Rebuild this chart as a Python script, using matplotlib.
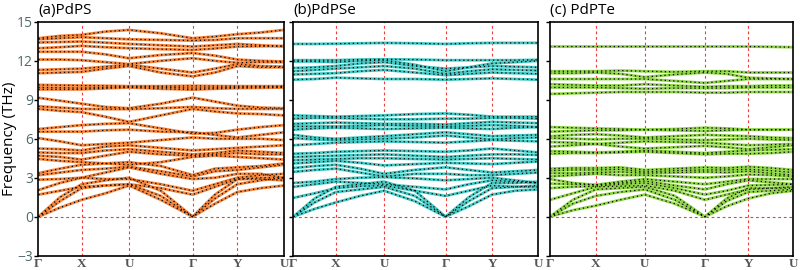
import numpy as np
import matplotlib
matplotlib.use("Agg")
import matplotlib.pyplot as plt

# high-symmetry path labels
path_labels = ["Γ", "X", "U", "Γ", "Y", "U"]

# high-symmetry point positions (fraction of path) per panel
hs_pdps = [0, 0.176, 0.369, 0.628, 0.81, 1.0]
hs_pdpse = [0, 0.174, 0.371, 0.622, 0.812, 1.0]
hs_pdpte = [0, 0.188, 0.39, 0.637, 0.815, 1.0]

# band frequencies (THz) read at Γ, mid, X, mid, U, mid, Γ, mid, Y, mid, U
pdps_bands = [
    [13.74, 13.92, 14.0, 14.25, 14.38, 14.12, 13.74, 13.87, 14.05, 14.18, 14.38],
    [13.66, 13.74, 13.82, 13.74, 13.66, 13.61, 13.56, 13.61, 13.74, 13.74, 13.74],
    [13.41, 13.45, 13.49, 13.4, 13.3, 13.2, 13.1, 13.2, 13.3, 13.2, 13.1],
    [12.97, 13.05, 13.15, 13.05, 12.97, 12.9, 12.84, 12.95, 13.1, 13.12, 13.15],
    [12.7, 12.7, 12.7, 12.5, 12.2, 12.45, 12.6, 12.4, 12.1, 12.0, 11.95],
    [12.1, 12.1, 12.05, 11.9, 11.75, 12.0, 12.2, 12.0, 11.85, 11.9, 11.9],
    [11.3, 11.35, 11.4, 11.55, 11.7, 11.4, 11.1, 11.4, 11.75, 11.6, 11.55],
    [11.05, 11.1, 11.15, 11.4, 11.6, 11.1, 10.8, 11.1, 11.6, 11.5, 11.5],
    [10.15, 10.12, 10.1, 10.08, 10.05, 10.05, 10.08, 10.06, 10.05, 10.05, 10.05],
    [9.95, 9.93, 9.9, 9.95, 10.0, 9.97, 9.9, 9.93, 9.97, 10.0, 10.0],
    [9.8, 9.8, 9.8, 9.88, 9.95, 9.85, 9.78, 9.85, 9.9, 9.92, 9.95],
    [9.15, 8.93, 8.7, 8.45, 8.35, 8.7, 9.17, 8.86, 8.55, 8.4, 8.35],
    [8.5, 8.4, 8.3, 8.28, 8.28, 8.35, 8.45, 8.35, 8.3, 8.3, 8.3],
    [8.3, 8.15, 8.05, 7.7, 7.3, 7.8, 8.3, 8.1, 7.95, 7.9, 7.8],
    [6.75, 6.9, 7.05, 7.15, 7.2, 6.8, 6.4, 6.45, 6.7, 6.9, 7.05],
    [6.55, 6.55, 6.55, 6.65, 6.7, 6.55, 6.5, 6.3, 6.1, 6.3, 6.5],
    [6.05, 5.8, 5.5, 5.6, 5.7, 5.9, 6.1, 6.0, 6.0, 6.0, 5.9],
    [5.25, 5.2, 5.1, 5.4, 5.5, 5.3, 5.1, 5.2, 5.3, 5.4, 5.5],
    [4.95, 4.9, 4.9, 5.1, 5.2, 5.0, 4.8, 4.9, 5.1, 5.0, 4.9],
    [4.7, 4.6, 4.4, 4.7, 5.0, 4.8, 4.7, 4.8, 4.9, 4.8, 4.8],
    [4.45, 4.3, 4.2, 4.1, 4.0, 4.2, 4.6, 4.7, 4.6, 4.5, 4.4],
    [3.35, 3.7, 4.0, 4.1, 4.2, 3.9, 3.2, 3.7, 3.8, 3.9, 4.1],
    [3.2, 3.4, 3.6, 3.7, 3.85, 3.5, 3.1, 3.5, 3.6, 3.8, 4.0],
    [2.85, 2.9, 3.0, 3.4, 3.8, 3.3, 2.9, 3.0, 3.3, 3.3, 3.0],
    [2.05, 2.6, 3.0, 2.9, 2.9, 2.5, 2.0, 2.5, 3.0, 3.2, 3.3],
    [1.7, 2.0, 2.3, 2.4, 2.5, 2.2, 1.7, 2.3, 2.9, 2.9, 2.8],
    [0, 1.5, 2.5, 2.8, 3.0, 2.0, 0, 1.7, 2.9, 3.0, 3.0],
    [0, 1.2, 2.2, 2.4, 2.5, 1.6, 0, 1.4, 2.5, 2.8, 3.0],
    [0, 0.7, 1.3, 1.8, 2.4, 1.3, 0, 1.0, 1.9, 2.2, 2.4],
]

pdpse_bands = [
    [13.3, 13.3, 13.32, 13.35, 13.38, 13.35, 13.3, 13.35, 13.38, 13.38, 13.38],
    [12.05, 12.05, 12.05, 12.1, 12.12, 12.1, 12.05, 12.05, 12.05, 12.05, 12.08],
    [11.95, 11.95, 11.9, 12.0, 12.05, 11.7, 11.2, 11.5, 11.8, 11.9, 12.0],
    [11.45, 11.5, 11.6, 11.8, 11.9, 11.6, 11.4, 11.5, 11.6, 11.55, 11.5],
    [11.2, 11.3, 11.4, 11.5, 11.6, 11.4, 11.0, 11.2, 11.35, 11.3, 11.25],
    [10.95, 11.0, 11.05, 11.2, 11.3, 11.1, 10.9, 11.0, 11.1, 11.05, 11.0],
    [10.55, 10.6, 10.7, 10.65, 10.6, 10.6, 10.55, 10.6, 10.65, 10.6, 10.55],
    [7.8, 7.75, 7.7, 7.75, 7.8, 7.9, 7.95, 7.85, 7.7, 7.7, 7.7],
    [7.55, 7.6, 7.6, 7.55, 7.5, 7.5, 7.55, 7.55, 7.6, 7.6, 7.55],
    [7.15, 7.2, 7.25, 7.2, 7.15, 7.15, 7.1, 7.2, 7.3, 7.25, 7.2],
    [6.95, 6.95, 6.95, 7.0, 7.05, 7.0, 6.95, 7.0, 7.05, 7.0, 6.9],
    [6.7, 6.8, 6.85, 6.8, 6.75, 6.8, 6.85, 6.8, 6.75, 6.85, 6.9],
    [6.3, 6.1, 6.0, 6.1, 6.2, 6.35, 6.5, 6.35, 6.2, 6.25, 6.3],
    [6.05, 5.95, 5.9, 5.95, 6.0, 6.1, 6.25, 6.1, 5.95, 6.05, 6.1],
    [5.5, 5.6, 5.7, 5.75, 5.8, 5.75, 5.7, 5.8, 5.9, 5.85, 5.8],
    [4.85, 4.9, 5.0, 5.05, 5.1, 5.05, 5.0, 5.1, 5.25, 5.1, 4.95],
    [4.6, 4.65, 4.7, 4.75, 4.8, 4.7, 4.6, 4.7, 4.8, 4.8, 4.75],
    [4.35, 4.4, 4.45, 4.5, 4.5, 4.45, 4.4, 4.45, 4.5, 4.45, 4.4],
    [4.1, 4.2, 4.3, 4.15, 3.95, 4.05, 4.15, 4.1, 4.05, 4.15, 4.25],
    [3.75, 3.9, 4.0, 3.7, 3.3, 3.6, 3.8, 3.6, 3.4, 3.5, 3.6],
    [3.45, 3.6, 3.7, 3.4, 3.1, 3.3, 3.3, 3.2, 3.2, 3.3, 3.4],
    [2.6, 2.7, 2.9, 3.0, 3.05, 2.95, 2.8, 2.9, 3.0, 2.8, 2.6],
    [2.3, 2.5, 2.7, 2.6, 2.5, 2.3, 2.1, 2.5, 2.8, 2.7, 2.6],
    [1.45, 1.8, 2.2, 2.35, 2.4, 2.0, 1.6, 2.0, 2.4, 2.3, 2.3],
    [0, 1.4, 2.3, 2.5, 2.7, 2.0, 0, 1.5, 2.6, 2.6, 2.7],
    [0, 1.1, 1.9, 2.1, 2.3, 1.6, 0, 1.2, 2.2, 2.3, 2.4],
    [0, 0.6, 1.1, 1.6, 2.0, 1.2, 0, 0.8, 1.7, 2.0, 2.1],
]

pdpte_bands = [
    [13.1, 13.1, 13.1, 13.1, 13.1, 13.1, 13.1, 13.1, 13.1, 13.08, 13.05],
    [11.2, 11.2, 11.2, 11.25, 11.2, 11.15, 11.2, 11.2, 11.1, 11.1, 11.1],
    [11.05, 11.05, 11.1, 11.0, 10.75, 10.95, 11.1, 11.0, 10.7, 10.65, 10.6],
    [10.6, 10.6, 10.6, 10.6, 10.6, 10.45, 10.3, 10.45, 10.6, 10.6, 10.6],
    [10.2, 10.15, 10.1, 10.1, 10.2, 10.1, 10.0, 10.05, 10.05, 10.1, 10.1],
    [9.95, 9.95, 9.95, 9.9, 9.85, 9.9, 9.9, 9.9, 9.95, 9.95, 9.95],
    [9.45, 9.5, 9.55, 9.6, 9.6, 9.6, 9.55, 9.55, 9.6, 9.6, 9.6],
    [6.9, 6.85, 6.8, 6.75, 6.7, 6.75, 6.85, 6.8, 6.7, 6.7, 6.7],
    [6.55, 6.6, 6.65, 6.65, 6.7, 6.65, 6.6, 6.65, 6.7, 6.7, 6.7],
    [6.2, 6.3, 6.35, 6.25, 6.1, 6.2, 6.3, 6.25, 6.2, 6.1, 6.05],
    [6.05, 6.0, 5.95, 6.0, 6.0, 5.95, 5.9, 5.95, 6.0, 5.95, 5.9],
    [5.75, 5.7, 5.6, 5.7, 5.8, 5.75, 5.7, 5.6, 5.5, 5.55, 5.6],
    [5.4, 5.5, 5.6, 5.4, 5.25, 5.35, 5.45, 5.35, 5.2, 5.35, 5.5],
    [5.05, 5.0, 4.95, 5.0, 5.1, 5.0, 4.9, 5.0, 5.1, 5.15, 5.2],
    [4.85, 4.9, 4.9, 4.95, 5.0, 4.9, 4.8, 4.85, 4.85, 4.9, 5.0],
    [3.7, 3.75, 3.75, 3.8, 3.6, 3.7, 3.8, 3.75, 3.85, 3.75, 3.6],
    [3.55, 3.6, 3.6, 3.65, 3.45, 3.55, 3.6, 3.6, 3.65, 3.55, 3.4],
    [3.35, 3.35, 3.4, 3.45, 3.35, 3.4, 3.45, 3.4, 3.5, 3.35, 3.2],
    [3.1, 3.2, 3.3, 3.2, 3.2, 3.1, 3.0, 3.1, 3.25, 3.2, 3.1],
    [2.9, 2.6, 2.45, 2.7, 2.9, 2.7, 2.5, 2.7, 2.9, 2.9, 2.9],
    [2.55, 2.5, 2.45, 2.6, 2.75, 2.4, 2.1, 2.5, 2.8, 2.65, 2.5],
    [2.2, 2.3, 2.35, 2.5, 2.6, 2.2, 1.7, 2.0, 2.4, 2.45, 2.5],
    [1.3, 1.8, 2.3, 2.35, 2.4, 2.0, 1.3, 1.7, 2.1, 2.2, 2.3],
    [0, 1.3, 2.1, 2.2, 2.3, 1.6, 0, 1.4, 2.2, 2.2, 2.2],
    [0, 1.0, 1.6, 1.9, 2.1, 1.3, 0, 1.2, 1.9, 2.0, 2.1],
    [0, 0.5, 0.85, 1.3, 1.7, 1.0, 0, 0.8, 1.4, 1.8, 2.0],
]

titles = ["(a)PdPS", "(b)PdPSe", "(c) PdPTe"]
colors = ["#f2843c", "#45c8c2", "#8fd448"]

plt.rcParams['font.family'] = ['Open Sans', 'DejaVu Sans']

fig = plt.figure(figsize=(8, 2.7), dpi=100)
rects = [
    [0.048, 0.053, 0.307, 0.866],
    [0.3666, 0.053, 0.306, 0.866],
    [0.6875, 0.053, 0.304, 0.866],
]

panels = [(hs_pdps, pdps_bands), (hs_pdpse, pdpse_bands), (hs_pdpte, pdpte_bands)]

for i, (hs, bands) in enumerate(panels):
    ax = fig.add_axes(rects[i])
    # k positions: high-symmetry points plus the midpoints between them
    kpts = []
    for j in range(len(hs) - 1):
        kpts += [hs[j], (hs[j] + hs[j + 1]) / 2]
    kpts.append(hs[-1])

    for b in bands:
        ax.plot(kpts, b, color=colors[i], lw=2.0, solid_capstyle='round', zorder=2)
        ax.plot(kpts, b, color='black', lw=0.9, linestyle=(0, (1, 2.4)), zorder=3)

    for x in hs[1:-1]:
        ax.axvline(x, color='#f03c3c', lw=0.8, linestyle=(0, (2.5, 2.5)), zorder=1)
    ax.axhline(0, color='#f03c3c', lw=0.8, linestyle=(0, (2.5, 2.5)), zorder=1)

    ax.set_xlim(0, 1)
    ax.set_ylim(-3, 15)
    ax.set_yticks([-3, 0, 3, 6, 9, 12, 15])
    ax.set_xticks(hs)
    ax.set_xticklabels(path_labels, fontfamily='Liberation Serif', fontweight='bold',
                       fontsize=9.5, color='#555555')
    ax.tick_params(axis='x', length=0, pad=2)
    ax.tick_params(axis='y', direction='out', length=3, width=1, labelsize=10,
                   labelcolor='#4f6b6b', pad=1)
    if i > 0:
        ax.set_yticklabels([])
    else:
        ax.set_ylabel("Frequency (THz)", fontsize=11, labelpad=0)
    for s in ax.spines.values():
        s.set_linewidth(1.2)
    ax.text(0, 1.015, titles[i], transform=ax.transAxes, fontsize=11,
            ha='left', va='bottom')

fig.savefig("out.png", dpi=100)
